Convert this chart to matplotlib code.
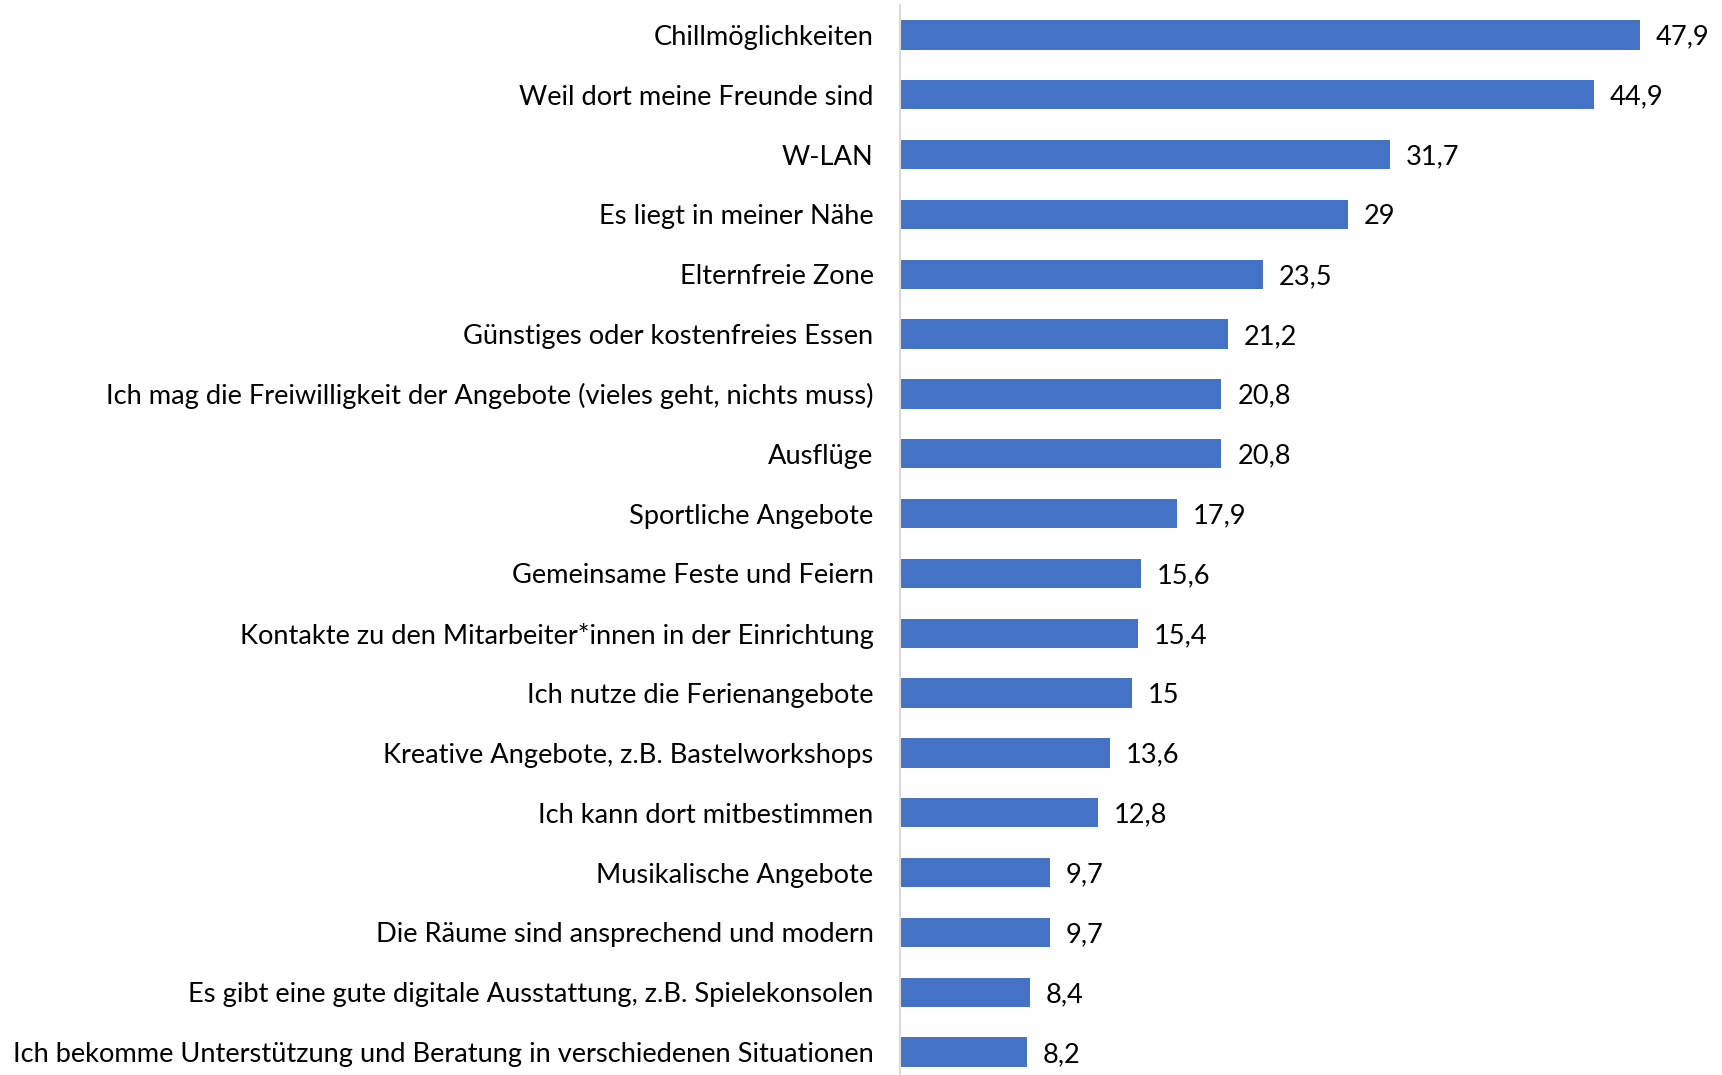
import matplotlib
matplotlib.use("Agg")
import matplotlib.pyplot as plt

categories = [
    "Chillmöglichkeiten",
    "Weil dort meine Freunde sind",
    "W-LAN",
    "Es liegt in meiner Nähe",
    "Elternfreie Zone",
    "Günstiges oder kostenfreies Essen",
    "Ich mag die Freiwilligkeit der Angebote (vieles geht, nichts muss)",
    "Ausflüge",
    "Sportliche Angebote",
    "Gemeinsame Feste und Feiern",
    "Kontakte zu den Mitarbeiter*innen in der Einrichtung",
    "Ich nutze die Ferienangebote",
    "Kreative Angebote, z.B. Bastelworkshops",
    "Ich kann dort mitbestimmen",
    "Musikalische Angebote",
    "Die Räume sind ansprechend und modern",
    "Es gibt eine gute digitale Ausstattung, z.B. Spielekonsolen",
    "Ich bekomme Unterstützung und Beratung in verschiedenen Situationen",
]
values = [47.9, 44.9, 31.7, 29, 23.5, 21.2, 20.8, 20.8, 17.9, 15.6, 15.4, 15, 13.6, 12.8, 9.7, 9.7, 8.4, 8.2]

W, H = 1722, 1075
fig = plt.figure(figsize=(W / 100, H / 100), dpi=100)
ax_left = 900 / W
ax_top_px = 5
ax_bot_px = 1082
ax = fig.add_axes([ax_left, (H - ax_bot_px) / H, 1 - ax_left, (ax_bot_px - ax_top_px) / H])

FONT = "Lato"
fs = 19.6
ypos = list(range(len(categories)))
ax.barh(ypos, values, height=0.49, color="#4472C4", zorder=2)
ax.set_ylim(len(categories) - 0.5, -0.5)
xmax = 47.9 * (W - 900) / (1640 - 900)
ax.set_xlim(0, xmax)

for y, v in zip(ypos, values):
    txt = f"{v:g}".replace(".", ",")
    ax.text(v + 16 * xmax / (W - 900), y + 0.04, txt, va="center", ha="left",
            fontsize=fs, family=FONT, color="black")

ax.set_yticks(ypos)
ax.set_yticklabels(categories, fontsize=fs, family=FONT, color="black")
ax.tick_params(axis="y", length=0, pad=19)
ax.set_xticks([])
for s in ["top", "right", "bottom"]:
    ax.spines[s].set_visible(False)
ax.spines["left"].set_color("#D9D9D9")
ax.spines["left"].set_linewidth(1.5)

fig.savefig("out.png", dpi=100)
